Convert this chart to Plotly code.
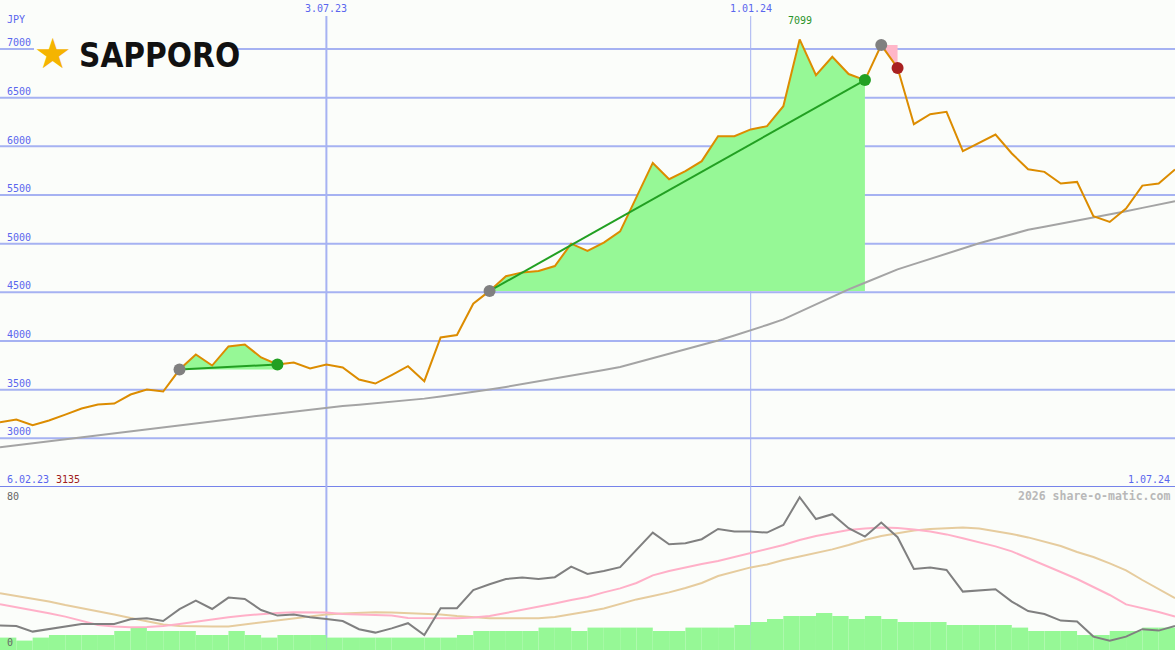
import pandas as pd
import plotly.graph_objects as go

# weekly closes (JPY), 13.02.23 .. 1.07.24
dates = pd.date_range("2023-02-13", periods=73, freq="7D")
price = [3165, 3193, 3135, 3183, 3244, 3306, 3347, 3357, 3450, 3501,
         3481, 3707, 3862, 3748, 3944, 3965, 3831, 3759, 3779, 3718,
         3759, 3728, 3604, 3563, 3650, 3741, 3587, 4036, 4062, 4383,
         4515, 4666, 4705, 4719, 4770, 5000, 4925, 5011, 5127, 5480,
         5830, 5662, 5745, 5848, 6105, 6105, 6174, 6208, 6413, 7099,
         6732, 6921, 6743, 6681, 7041, 6805, 6228, 6331, 6355, 5950,
         6036, 6122, 5927, 5765, 5738, 5618, 5635, 5282, 5223, 5361,
         5597, 5618, 5762]
ma = [2908, 2928, 2948, 2968, 2988, 3008, 3028, 3048, 3068, 3090,
      3110, 3130, 3152, 3172, 3193, 3214, 3235, 3255, 3275, 3297,
      3319, 3332, 3346, 3360, 3374, 3388, 3408, 3430, 3452, 3476,
      3501, 3528, 3556, 3585, 3614, 3644, 3674, 3703, 3733, 3778,
      3823, 3869, 3914, 3960, 4006, 4057, 4109, 4165, 4222, 4300,
      4377, 4454, 4530, 4599, 4668, 4736, 4790, 4844, 4898, 4951,
      5004, 5050, 5097, 5143, 5174, 5205, 5236, 5266, 5300, 5334,
      5368, 5402, 5436]

# lower panel (0..80)
osc = [12.2, 12, 9.2, 10.5, 11.7, 13, 13, 13, 15.4, 15.9,
       14.5, 20.4, 24.7, 20.5, 26.2, 25.5, 20, 17.2, 17.7, 16.4,
       15.5, 14.5, 10.4, 8.7, 10.8, 13.4, 7.5, 20.9, 20.9, 30,
       32.9, 35.5, 36.2, 35.5, 36.4, 41.7, 38, 39.5, 41.4, 50,
       58.7, 52.9, 53.4, 55.4, 60.5, 59.2, 59.2, 58.7, 62.5, 76.4,
       65.5, 67.9, 60.9, 56.7, 63.7, 56.4, 40.5, 41.2, 40, 29.2,
       29.7, 30.4, 24.2, 19.5, 18, 14.7, 14.2, 6.7, 4.7, 6.7,
       10.4, 9.7, 12]
osc_fast = [22.9, 21.5, 20, 18.4, 16.7, 14.5, 12.5, 11.8, 11.4, 11.5,
            12, 13, 14.2, 15.3, 16.4, 17.3, 18, 18.5, 18.9, 18.9,
            18.8, 18, 17.8, 17.4, 17.3, 16, 15.9, 15.9, 15.9, 16.3,
            17, 18.5, 20, 21.5, 23.3, 25, 26.5, 28.8, 30.8, 33.5,
            37.3, 39.5, 41.3, 43, 44.5, 46.5, 48.5, 50.3, 52.5, 55,
            57, 58.5, 60, 60.8, 61.3, 61, 60.3, 59.2, 57.8, 55.9,
            54, 51.8, 49.3, 46, 42.5, 39, 35.5, 31.5, 27.5, 22.8,
            21, 19, 16.7]
osc_slow = [28.4, 27, 25.9, 24.3, 22.5, 21, 19.3, 17.8, 16, 14.3,
            12.8, 12, 11.7, 11.7, 11.8, 12.8, 13.8, 14.8, 15.8, 16.8,
            17.8, 18.3, 18.7, 18.9, 18.8, 18.5, 18.3, 17.8, 17, 16.3,
            15.9, 15.9, 15.9, 15.9, 16.5, 17.8, 19.3, 20.8, 23, 25.3,
            27, 28.8, 31, 33.5, 37, 39.3, 41.3, 42.8, 45, 46.8,
            48.5, 50.3, 52.5, 55, 57, 58.5, 59.8, 60.5, 60.9, 61.2,
            60.8, 59.5, 58, 56.3, 54.3, 52, 49, 46.5, 43.3, 39.8,
            35, 30.5, 25.9]
volume = [6.2, 4.7, 6.2, 7.5, 7.5, 7.5, 7.5, 9.5, 11.2, 9.5,
          9.5, 9.5, 7.5, 7.5, 9.5, 7.5, 6.2, 7.5, 7.5, 7.5,
          6.2, 6.2, 6.2, 6.2, 6.2, 6.2, 6.2, 6.2, 7.5, 9.5,
          9.5, 9.5, 9.5, 11.2, 11.2, 9.5, 11.2, 11.2, 11.2, 11.2,
          9.5, 9.5, 11.2, 11.2, 11.2, 12.5, 14, 15.5, 17, 17,
          18.5, 17, 15.5, 17, 15.5, 14, 14, 14, 12.5, 12.5,
          12.5, 12.5, 11.2, 9.5, 9.5, 9.5, 7.5, 7.5, 9.5, 9.5,
          11.2, 11.2]

# trades: entry index, exit index
win_trades = [(11, 17), (30, 53)]
loss_trades = [(54, 55)]

y_ticks = [3000, 3500, 4000, 4500, 5000, 5500, 6000, 6500, 7000]
v_dates = ["2023-07-03", "2024-01-01"]
v_labels = ["3.07.23", "1.01.24"]
start_label, end_label = "6.02.23", "1.07.24"
low_label, high_label = "3135", "7099"
high_idx = 49

BG = "#fbfdfa"
GRID = "#a6b2f2"
BLUE = "#5a66ee"
GREEN_FILL = "#96f896"
GREEN = "#22a022"
H = 650.0
W = 1175.0
MONO = "DejaVu Sans Mono"

fig = go.Figure()

# green areas of winning trades
for a, b in win_trades:
    xs = list(dates[a:b + 1]) + [dates[b], dates[a]]
    ys = price[a:b + 1] + [price[a], price[a]]
    fig.add_trace(go.Scatter(x=xs, y=ys, fill="toself", fillcolor=GREEN_FILL,
                             mode="lines", line=dict(width=0), hoverinfo="skip"))
for a, b in loss_trades:
    xs = list(dates[a:b + 1]) + [dates[b]]
    ys = price[a:b + 1] + [price[a]]
    fig.add_trace(go.Scatter(x=xs, y=ys, fill="toself", fillcolor="#ffb6c8",
                             mode="lines", line=dict(width=0), hoverinfo="skip"))

fig.add_trace(go.Scatter(x=dates, y=ma, mode="lines", line=dict(color="#a4a4a4", width=2)))
fig.add_trace(go.Scatter(x=dates, y=price, mode="lines", line=dict(color="#dc8c00", width=2)))

for a, b in win_trades:
    fig.add_trace(go.Scatter(x=[dates[a], dates[b]], y=[price[a], price[b]], mode="lines",
                             line=dict(color=GREEN, width=2)))

entries = [t[0] for t in win_trades + loss_trades]
fig.add_trace(go.Scatter(x=[dates[i] for i in entries], y=[price[i] for i in entries],
                         mode="markers", marker=dict(color="#808080", size=12)))
fig.add_trace(go.Scatter(x=[dates[b] for a, b in win_trades], y=[price[b] for a, b in win_trades],
                         mode="markers", marker=dict(color=GREEN, size=12)))
fig.add_trace(go.Scatter(x=[dates[b] for a, b in loss_trades], y=[price[b] for a, b in loss_trades],
                         mode="markers", marker=dict(color="#a82020", size=12)))

# lower panel
fig.add_trace(go.Bar(x=dates[:len(volume)], y=volume, yaxis="y2", marker_color=GREEN_FILL,
                     marker_line_width=0, width=7 * 86400000, offset=0))
fig.add_trace(go.Scatter(x=dates, y=osc_slow, yaxis="y2", mode="lines", line=dict(color="#e6cc9e", width=2)))
fig.add_trace(go.Scatter(x=dates, y=osc_fast, yaxis="y2", mode="lines", line=dict(color="#ffb0c8", width=2)))
fig.add_trace(go.Scatter(x=dates, y=osc, yaxis="y2", mode="lines", line=dict(color="#808080", width=2)))

shapes = []
for v in y_ticks:
    shapes.append(dict(type="line", xref="paper", x0=0, x1=1, yref="y", y0=v, y1=v,
                       line=dict(color=GRID, width=2), layer="below"))
shapes.append(dict(type="line", xref="paper", x0=0, x1=1, yref="y", y0=2500, y1=2500,
                   line=dict(color="#7683ea", width=2), layer="below"))
for d, w in zip(v_dates, [2, 1]):
    shapes.append(dict(type="line", xref="x", x0=d, x1=d, yref="paper", y0=0, y1=1 - 16 / H,
                       line=dict(color=GRID, width=w), layer="below"))
# blank box behind the logo
shapes.append(dict(type="rect", xref="paper", yref="paper", x0=34 / W, x1=235 / W,
                   y0=1 - 72 / H, y1=1 - 36 / H, fillcolor=BG, line=dict(width=0), layer="below"))

ann = []


def txt(text, x, y, color, xref="paper", size=10, xanchor="left", bold=False, family=MONO):
    ann.append(dict(text=f"<b>{text}</b>" if bold else text, x=x, y=y, xref=xref, yref="paper",
                    showarrow=False, xanchor=xanchor, yanchor="middle",
                    font=dict(family=family, size=size, color=color)))


for v in y_ticks:
    ypix = 49 + (7000 - v) * 48.6 / 500
    txt(str(v), 5 / W, 1 - (ypix - 6) / H, BLUE)
txt("JPY", 5 / W, 1 - 19 / H, BLUE)
for d, lab in zip(v_dates, v_labels):
    txt(lab, d, 1 - 9 / H, BLUE, xref="x", xanchor="center")
txt(high_label, dates[high_idx], 1 - 20 / H, "#2a942a", xref="x", xanchor="center")
txt(start_label, 5 / W, 1 - 479 / H, BLUE)
txt(low_label, 54 / W, 1 - 479 / H, "#a02020")
txt(end_label, 1172 / W, 1 - 479 / H, BLUE, xanchor="right")
txt("2026 share-o-matic.com", 1172 / W, 1 - 496 / H, "#b8b8b8", xanchor="right", size=11.5, bold=True)
txt("80", 5 / W, 1 - 496 / H, "#666666")
txt("0", 5 / W, 1 - 642 / H, "#666666")

# logo
txt("★", 32 / W, 1 - 54 / H, "#f5b400", size=42, family="DejaVu Sans")
txt("SAPPORO", 77 / W, 1 - 55 / H, "#111111", size=33, bold=True,
    family="Liberation Sans Narrow, DejaVu Sans Condensed, Liberation Sans")

fig.update_layout(
    width=1175, height=650, margin=dict(l=0, r=0, t=0, b=0),
    paper_bgcolor=BG, plot_bgcolor=BG, showlegend=False,
    xaxis=dict(type="date", range=[dates[0], "2024-07-01"], visible=False, fixedrange=True),
    yaxis=dict(domain=[163 / H, 1], range=[2500, 7504], visible=False, fixedrange=True),
    yaxis2=dict(domain=[0, 163 / H], range=[0, 81.5], visible=False, fixedrange=True, anchor="x"),
    shapes=shapes, annotations=ann,
)

fig.write_html("out.html", config={"displayModeBar": False},
               post_script="document.body.style.margin='0';")
